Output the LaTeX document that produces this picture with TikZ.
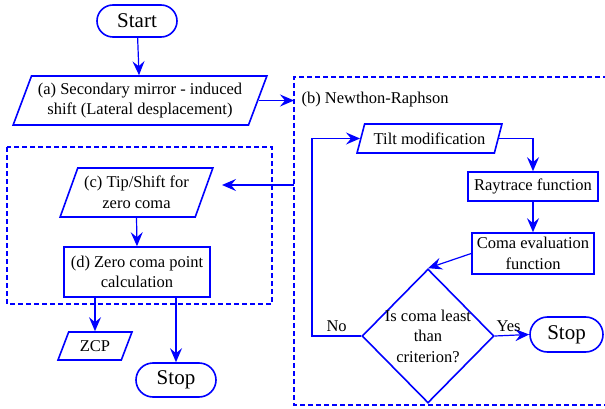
\documentclass[tikz,border=0pt]{standalone}
\usepackage{fontspec}
\setmainfont{Liberation Serif}
\usetikzlibrary{arrows.meta}
\usetikzlibrary{shapes.geometric,shapes.misc}

\tikzset{
  term/.style={draw=blue, line width=1.6pt, rounded rectangle, inner sep=0pt,
    font=\fontsize{21}{25}\selectfont},
  proc/.style={draw=blue, line width=1.6pt, rectangle, inner sep=0pt, align=center},
  io/.style={draw=blue, line width=1.6pt, trapezium, trapezium left angle=64,
    trapezium right angle=116, trapezium stretches=true, inner sep=0pt, align=center},
  iosmall/.style={io, trapezium left angle=61, trapezium right angle=119},
  decide/.style={draw=blue, line width=1.6pt, diamond, inner sep=-18pt, align=center},
  frame/.style={draw=blue, line width=1.6pt, dash pattern=on 5pt off 3pt},
  arr/.style={draw=blue, line width=1.2pt, -{Stealth[length=14pt, width=12pt, inset=5pt]}}
}

\begin{document}
\begin{tikzpicture}[x=1pt, y=-1pt, font=\fontsize{16.5}{20.5}\selectfont]
        \useasboundingbox (0,0) rectangle (605,409);
        % dashed frames
        \coordinate (bnw) at (294,77);
        \draw[frame] (608,77) -- (bnw) -- (294,405) -- (608,405);
        \draw[frame] (7,147) rectangle (272,304);
        % left column
        \node[term, minimum width=80pt, minimum height=32pt] (start) at (137,21) {Start};
        \node[io, minimum width=254pt, minimum height=49pt] (a) at (140,100.5)
            {(a) Secondary mirror - induced\\shift (Lateral desplacement)};
        \node[io, minimum width=153pt, minimum height=49pt] (c) at (136.5,192.5)
            {(c) Tip/Shift for\\zero coma};
        \node[proc, minimum width=146pt, minimum height=50pt] (d) at (137,272)
            {(d) Zero coma point\\calculation};
        \node[iosmall, minimum width=74pt, minimum height=28pt] (zcp) at (95,346) {ZCP};
        \node[term, minimum width=80pt, minimum height=34pt] (stopa) at (176,380) {Stop};
        % Newton-Raphson loop
        \node[anchor=west] (nr) at (298,100) {(b) Newthon-Raphson};
        \node[iosmall, minimum width=145pt, minimum height=29pt] (tilt) at (429.5,138.5)
            {Tilt modification};
        \node[proc, minimum width=130pt, minimum height=29pt] (ray) at (533,186.5)
            {Raytrace function};
        \node[proc, minimum width=122pt, minimum height=41pt] (coma) at (533,253.5)
            {Coma evaluation\\function};
        \node[decide, minimum width=132pt, minimum height=134pt] (crit) at (428,336)
            {Is coma least\\than\\criterion?};
        \node[term, minimum width=73pt, minimum height=35pt] (stopb) at (566.5,334.5) {Stop};
        \coordinate (cin) at (222,185);
        \coordinate (noturn) at (312,336);
        % connectors
        \draw[arr] (start) -- (a);
        \draw[arr] (a.east) -- (a.east -| bnw);
        \draw[arr] (bnw |- cin) -- (cin);
        \draw[arr] (c.south) -- (d.north);
        \draw[arr] (zcp.north |- d.south) -- (zcp.north);
        \draw[arr] (stopa.north |- d.south) -- (stopa.north);
        \draw[arr] (tilt.east) -| (ray.north);
        \draw[arr] (ray) -- (coma);
        \draw[arr] (coma.west) -- (crit.north);
        \draw[arr] (crit.east) -- node[pos=0.4, above] {Yes} (stopb.west);
        \draw[arr] (crit.west) -- node[midway, above] {No} (noturn) |- (tilt.west);
\end{tikzpicture}
\end{document}
